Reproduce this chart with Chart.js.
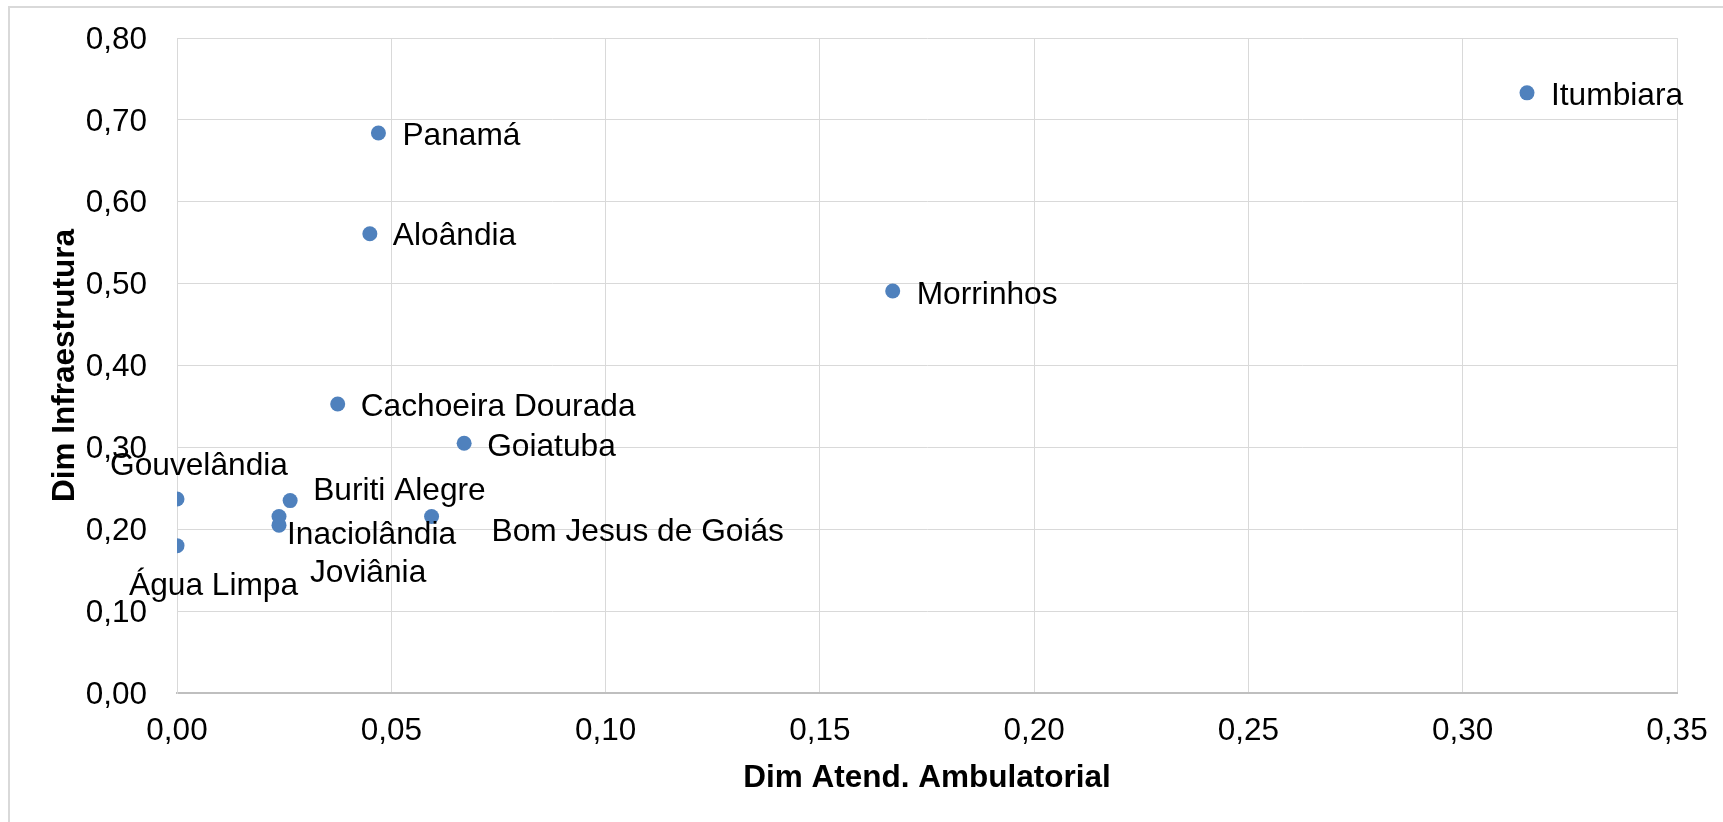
<!DOCTYPE html>
<html>
<head>
<meta charset="utf-8">
<script src="https://cdn.jsdelivr.net/npm/chart.js@4"></script>
<style>
  body { margin: 0; background: #fff; }
  canvas { display: block; }
</style>
</head>
<body>
<canvas id="scatterChart" width="1723" height="822"></canvas>
<script>
// Municipalities and their two dimension scores
const cities = ['Itumbiara', 'Panamá', 'Aloândia', 'Morrinhos', 'Cachoeira Dourada', 'Goiatuba',
  'Gouvelândia', 'Buriti Alegre', 'Inaciolândia', 'Joviânia', 'Bom Jesus de Goiás', 'Água Limpa'];
const atendAmbulatorial = [0.315, 0.047, 0.045, 0.167, 0.0375, 0.067, 0.000, 0.0264, 0.0238, 0.0238, 0.0594, 0.000];
const infraestrutura = [0.733, 0.684, 0.561, 0.491, 0.353, 0.305, 0.237, 0.235, 0.205, 0.2155, 0.2155, 0.180];

const xTicks = [0, 0.05, 0.10, 0.15, 0.20, 0.25, 0.30, 0.35];
const yTicks = [0, 0.10, 0.20, 0.30, 0.40, 0.50, 0.60, 0.70, 0.80];

// where each data label sits, relative to its point (px)
const labelOffsets = [
  [24, 3], [24, 3], [23, 3], [24, 4], [23, 3], [23, 4],
  [-67, -33], [23, -9], [8, 10], [31, 57], [60, 16], [-48, 41]
];

const FONT = '"Liberation Sans", Arial, sans-serif';
const fmt = v => v.toFixed(2).replace('.', ',');

const points = cities.map((_, i) => ({ x: atendAmbulatorial[i], y: infraestrutura[i] }));

// outer chart border (only top and left edges are visible)
const frame = {
  id: 'frame',
  beforeDraw(chart) {
    const ctx = chart.ctx;
    ctx.save();
    ctx.strokeStyle = '#d9d9d9';
    ctx.lineWidth = 2;
    ctx.beginPath();
    ctx.moveTo(9, 830);
    ctx.lineTo(9, 7);
    ctx.lineTo(1730, 7);
    ctx.stroke();
    ctx.restore();
  }
};

const dataLabels = {
  id: 'dataLabels',
  afterDatasetsDraw(chart) {
    const ctx = chart.ctx;
    const meta = chart.getDatasetMeta(0);
    ctx.save();
    ctx.font = '31.7px ' + FONT;
    ctx.fillStyle = '#000';
    ctx.textAlign = 'left';
    ctx.textBaseline = 'middle';
    meta.data.forEach((pt, i) => {
      const [dx, dy] = labelOffsets[i];
      ctx.fillText(cities[i], pt.x + dx, pt.y + dy);
    });
    ctx.restore();
  }
};

new Chart(document.getElementById('scatterChart'), {
  type: 'scatter',
  data: {
    datasets: [{
      label: 'Municípios',
      data: points,
      backgroundColor: '#4f81bd',
      borderWidth: 0,
      pointRadius: 7.5
    }]
  },
  options: {
    responsive: false,
    animation: false,
    layout: { padding: { top: 38, right: 46, left: 0, bottom: 0 } },
    plugins: {
      legend: { display: false },
      tooltip: { enabled: false }
    },
    scales: {
      x: {
        type: 'linear',
        min: 0,
        max: 0.35,
        afterBuildTicks: s => { s.ticks = xTicks.map(v => ({ value: v })); },
        afterFit: s => { s.height = 129; s.paddingLeft = 0; s.paddingRight = 0; },
        grid: { color: '#d9d9d9', lineWidth: 1, drawTicks: false },
        border: { color: '#bfbfbf', width: 2 },
        ticks: {
          padding: 19,
          maxRotation: 0,
          color: '#000',
          font: { family: FONT, size: 31.5 },
          callback: v => fmt(v)
        },
        title: {
          display: true,
          text: 'Dim Atend. Ambulatorial',
          color: '#000',
          font: { family: FONT, size: 31.5, weight: 'bold' },
          padding: { top: 0, bottom: 25 }
        }
      },
      y: {
        type: 'linear',
        min: 0,
        max: 0.8,
        afterBuildTicks: s => { s.ticks = yTicks.map(v => ({ value: v })); },
        afterFit: s => { s.width = 177; s.paddingTop = 0; s.paddingBottom = 0; },
        grid: { color: '#d9d9d9', lineWidth: 1, drawTicks: false },
        border: { color: '#d9d9d9', width: 1 },
        ticks: {
          padding: 30,
          labelOffset: 2,
          color: '#000',
          font: { family: FONT, size: 31.5 },
          callback: v => fmt(v)
        },
        title: {
          display: true,
          text: 'Dim Infraestrutura',
          color: '#000',
          font: { family: FONT, size: 31.5, weight: 'bold' },
          padding: { top: 46, bottom: 0 }
        }
      }
    }
  },
  plugins: [frame, dataLabels]
});
</script>
</body>
</html>
